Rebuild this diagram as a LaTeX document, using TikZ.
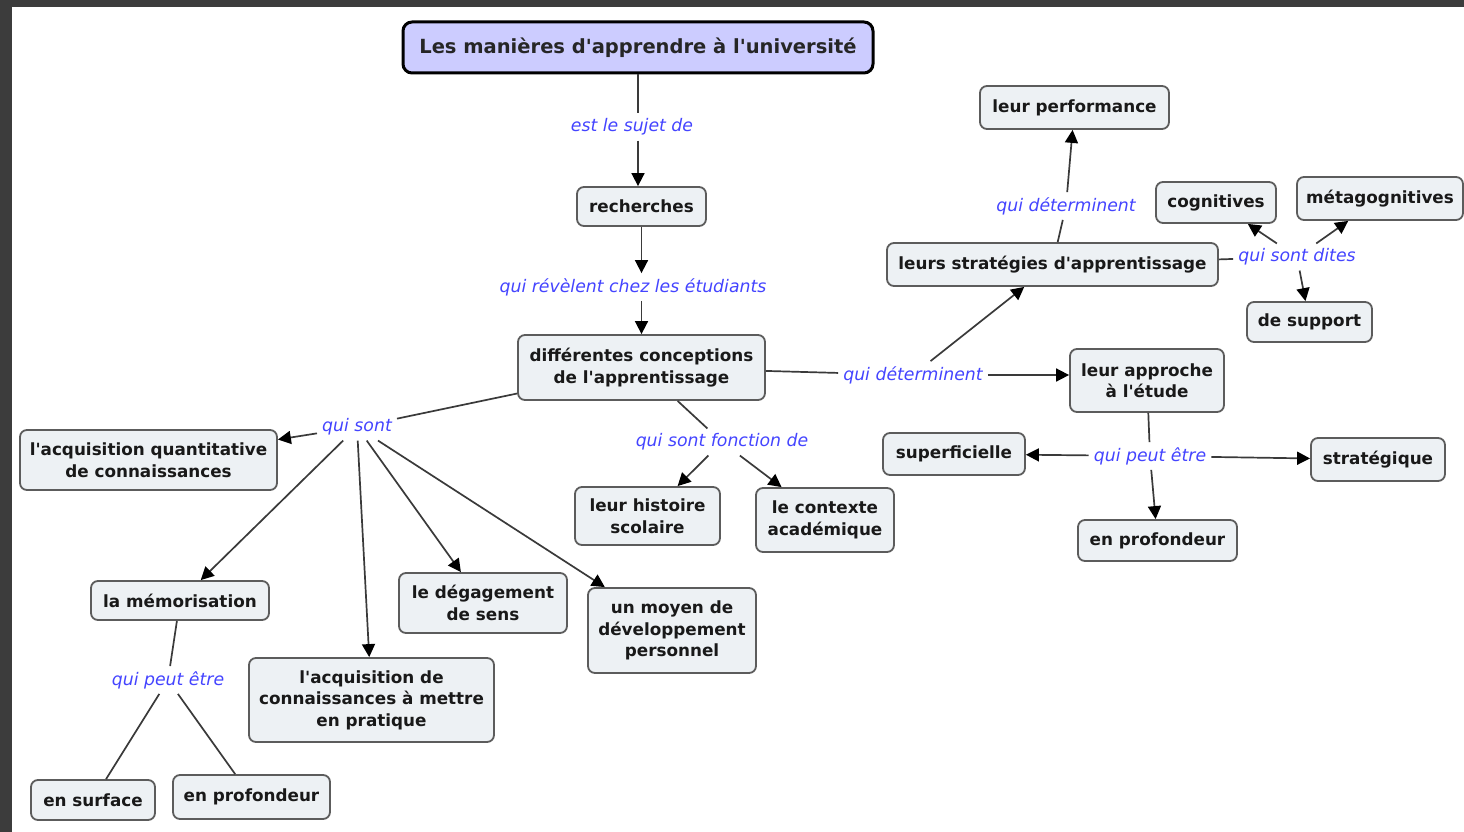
\documentclass[tikz,border=0pt]{standalone}
\usepackage{fontspec}
\setmainfont{DejaVu Sans}
\usetikzlibrary{arrows.meta}

\definecolor{framegray}{HTML}{3C3C3C}
\definecolor{boxfill}{HTML}{EDF1F4}
\definecolor{boxline}{HTML}{5C5C5C}
\definecolor{titlefill}{HTML}{CCCCFF}
\definecolor{linkblue}{HTML}{4444FF}
\definecolor{wire}{HTML}{3A3A3A}

% straight apostrophe
\newcommand{\ap}{\textquotesingle}

\tikzset{
  concept/.style={draw=boxline, line width=1.8pt, fill=boxfill, rounded corners=7pt,
    inner sep=0pt, align=center, text=black!90,
    font=\fontsize{16.8}{21.5}\selectfont\bfseries},
  maintopic/.style={draw=black, line width=3pt, fill=titlefill, rounded corners=9pt,
    inner sep=0pt, align=center, text=black!85,
    font=\fontsize{19.5}{23}\selectfont\bfseries},
  linkword/.style={text=linkblue, inner sep=5pt, font=\fontsize{17.3}{20}\selectfont\itshape},
  wirestyle/.style={draw=wire, line width=1.7pt},
  arrowed/.style={wirestyle, -{Triangle[length=13pt,width=13pt,color=black]}},
}

\begin{document}
\begin{tikzpicture}[x=1pt,y=-1pt]
  % canvas and dark window frame
  \useasboundingbox (0,0) rectangle (1464,832);
  \fill[white] (0,0) rectangle (1464,832);
  \fill[framegray] (0,0) rectangle (1464,7);
  \fill[framegray] (0,0) rectangle (12,832);

  % concepts
  \node[maintopic, minimum width=470pt, minimum height=51pt] (title) at (638,47.5)
    {Les manières d\ap apprendre à l\ap université};
  \node[concept, minimum width=129pt, minimum height=39pt] (rech) at (641.5,206.5) {recherches};
  \node[concept, minimum width=247pt, minimum height=65pt] (conc) at (641.5,367.5)
    {différentes conceptions\\de l\ap apprentissage};
  \node[concept, minimum width=189pt, minimum height=43pt] (perf) at (1074.5,107.5) {leur performance};
  \node[concept, minimum width=120pt, minimum height=41pt] (cogn) at (1216,202.5) {cognitives};
  \node[concept, minimum width=166pt, minimum height=43pt] (meta) at (1380,198.5) {métagognitives};
  \node[concept, minimum width=331pt, minimum height=43pt] (strat) at (1052.5,264.5)
    {leurs stratégies d\ap apprentissage};
  \node[concept, minimum width=125pt, minimum height=40pt] (supp) at (1309.5,322) {de support};
  \node[concept, minimum width=154pt, minimum height=63pt] (appr) at (1147,380.5)
    {leur approche\\à l\ap étude};
  \node[concept, minimum width=142pt, minimum height=42pt] (superf) at (954,454) {superficielle};
  \node[concept, minimum width=134pt, minimum height=43pt] (strq) at (1378,459.5) {stratégique};
  \node[concept, minimum width=159pt, minimum height=41pt] (profR) at (1157.5,540.5) {en profondeur};
  \node[concept, minimum width=257pt, minimum height=60pt] (acqQ) at (148.5,460)
    {l\ap acquisition quantitative\\de connaissances};
  \node[concept, minimum width=145pt, minimum height=58pt] (hist) at (647.5,516)
    {leur histoire\\scolaire};
  \node[concept, minimum width=138pt, minimum height=64pt] (ctx) at (825,520)
    {le contexte\\académique};
  \node[concept, minimum width=178pt, minimum height=39pt] (memo) at (180,600.5) {la mémorisation};
  \node[concept, minimum width=168pt, minimum height=60pt] (degag) at (483,603)
    {le dégagement\\de sens};
  \node[concept, minimum width=168pt, minimum height=85pt] (moyen) at (672,630.5)
    {un moyen de\\développement\\personnel};
  \node[concept, minimum width=245pt, minimum height=84pt] (acqP) at (371.5,700)
    {l\ap acquisition de\\connaissances à mettre\\en pratique};
  \node[concept, minimum width=124pt, minimum height=40pt] (surf) at (93,800) {en surface};
  \node[concept, minimum width=157pt, minimum height=44pt] (profL) at (251.5,797) {en profondeur};

  % linking phrases
  \node[linkword] (lSujet) at (632,127) {est le sujet de};
  \node[linkword] (lRevel) at (633,287) {qui révèlent chez les étudiants};
  \node[linkword] (lDetTop) at (1066,206) {qui déterminent};
  \node[linkword] (lDites) at (1297,257) {qui sont dites};
  \node[linkword] (lDetMid) at (913,375) {qui déterminent};
  \node[linkword] (lPeutR) at (1150,456) {qui peut être};
  \node[linkword] (lSont) at (357,427) {qui sont};
  \node[linkword] (lFonc) at (722,442) {qui sont fonction de};
  \node[linkword] (lPeutL) at (168,680) {qui peut être};

  % connectors along the main axis
  \draw[wirestyle] (title) -- (title |- lSujet.north);
  \draw[arrowed] (title |- lSujet.south) -- (title |- rech.north);
  \draw[arrowed] (rech) -- (rech |- lRevel.north);
  \draw[arrowed] (rech |- lRevel.south) -- (conc);

  % towards approaches and strategies
  \draw[wirestyle] (conc) -- (lDetMid);
  \draw[arrowed] (lDetMid) -- (lDetMid -| appr.west);
  \draw[arrowed] (lDetMid) -- (strat);

  \draw[wirestyle] (strat) -- (lDetTop);
  \draw[arrowed] (lDetTop) -- (perf);

  \draw[wirestyle] (strat) -- (lDites);
  \draw[arrowed] (lDites) -- (cogn);
  \draw[arrowed] (lDites) -- (meta);
  \draw[arrowed] (lDites) -- (supp);

  \draw[wirestyle] (appr) -- (lPeutR);
  \draw[arrowed] (lPeutR) -- (superf);
  \draw[arrowed] (lPeutR) -- (strq);
  \draw[arrowed] (lPeutR) -- (profR);

  % what the conceptions depend on
  \draw[wirestyle] (conc) -- (lFonc);
  \draw[arrowed] (lFonc) -- (hist);
  \draw[arrowed] (lFonc) -- (ctx);

  % the conceptions themselves
  \draw[wirestyle] (conc) -- (lSont);
  \draw[arrowed] (lSont) -- (acqQ);
  \draw[arrowed] (lSont) -- (memo);
  \draw[arrowed] (lSont) -- (acqP);
  \draw[arrowed] (lSont) -- (degag);
  \draw[arrowed] (lSont) -- (moyen);

  \draw[wirestyle] (memo) -- (lPeutL);
  \draw[wirestyle] (lPeutL) -- (surf);
  \draw[wirestyle] (lPeutL) -- (profL);
\end{tikzpicture}
\end{document}
